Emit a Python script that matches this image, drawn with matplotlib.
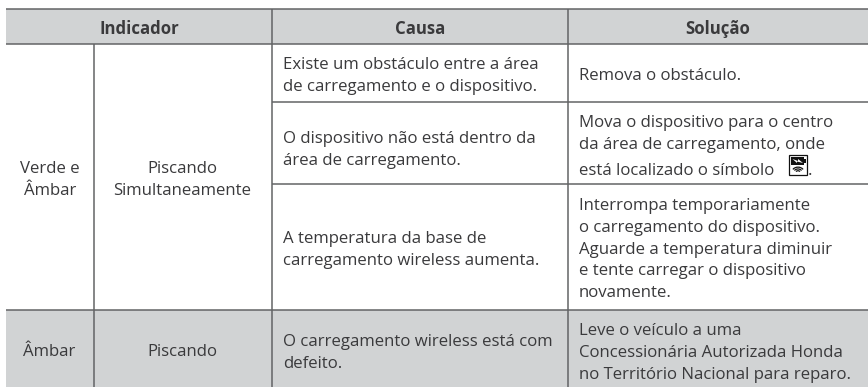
import matplotlib
matplotlib.use("Agg")
import matplotlib.pyplot as plt
from matplotlib.patches import Rectangle, Arc, Polygon

headers = ["Indicador", "Causa", "Solução"]
indicator_colors = ["Verde e\nÂmbar", "Âmbar"]
indicator_states = ["Piscando\nSimultaneamente", "Piscando"]
causes = [
    "Existe um obstáculo entre a área\nde carregamento e o dispositivo.",
    "O dispositivo não está dentro da\nárea de carregamento.",
    "A temperatura da base de\ncarregamento wireless aumenta.",
    "O carregamento wireless está com\ndefeito.",
]
solutions = [
    "Remova o obstáculo.",
    "Mova o dispositivo para o centro\nda área de carregamento, onde",
    "Interrompa temporariamente\no carregamento do dispositivo.\nAguarde a temperatura diminuir\ne tente carregar o dispositivo\nnovamente.",
    "Leve o veículo a uma\nConcessionária Autorizada Honda\nno Território Nacional para reparo.",
]
symbol_line = "está localizado o símbolo"
symbol_end = "."

W, H = 868, 387
GREY = "#d1d3d4"
LINE = "#636466"
TXT = "#3a3a3c"
FONT = "Open Sans"
FS = 12.05
LS = 1.48

col_x = [6, 94, 272, 568, 868]
row_y = [9, 43.5, 102, 184, 309.5, 387]

fig = plt.figure(figsize=(W / 100, H / 100), dpi=100)
ax = fig.add_axes([0, 0, 1, 1])
ax.set_xlim(0, W)
ax.set_ylim(H, 0)
ax.axis("off")

ax.add_patch(Rectangle((col_x[0], row_y[0]), col_x[-1] - col_x[0], row_y[1] - row_y[0], fc=GREY, ec="none"))
ax.add_patch(Rectangle((col_x[0], row_y[4]), col_x[-1] - col_x[0], row_y[5] - row_y[4], fc=GREY, ec="none"))

for y in [row_y[0], row_y[1], row_y[4]]:
    ax.plot([col_x[0], col_x[-1]], [y, y], color=LINE, lw=1.1, solid_capstyle="butt")
for y in [row_y[2], row_y[3]]:
    ax.plot([col_x[2], col_x[-1]], [y, y], color=LINE, lw=1.1, solid_capstyle="butt")
ax.plot([col_x[1]] * 2, [row_y[1], row_y[5]], color=LINE, lw=1.1, solid_capstyle="butt")
for x in col_x[2:4]:
    ax.plot([x, x], [row_y[0], row_y[5]], color=LINE, lw=1.1, solid_capstyle="butt")

def put(x, y, s, ha="left", **kw):
    ax.text(x, y, s, ha=ha, va="center", family=FONT, fontsize=FS, color=TXT,
            linespacing=LS, multialignment=ha, **kw)

hx = [(col_x[0] + col_x[2]) / 2, (col_x[2] + col_x[3]) / 2, (col_x[3] + col_x[4]) / 2]
for x, s in zip(hx, headers):
    put(x, 28.5, s, ha="center", fontweight="bold")

put(50, 180, indicator_colors[0], ha="center")
put(182.5, 180, indicator_states[0], ha="center")
put(49.5, 352, indicator_colors[1], ha="center")
put(182.5, 352, indicator_states[1], ha="center")

cy = [76, 150, 250, 353]
for y, s in zip(cy, causes):
    put(283, y, s)
sy = [76, 134, 249.5, 353]
for y, s in zip(sy, solutions):
    put(579, y, s)
put(579, 171, symbol_line)
put(808, 171, symbol_end)

ix, iy, iw, ih = 789, 155, 18, 20
ax.add_patch(Rectangle((ix, iy), iw, ih, fc="white", ec="#111111", lw=0.9, zorder=3))
ax.add_patch(Rectangle((ix + 2, iy + 2), iw - 5, 8, fc="#111111", ec="none", zorder=4))
ax.add_patch(Rectangle((ix + iw - 3, iy + 4), 1.5, 4, fc="#111111", ec="none", zorder=4))
ax.add_patch(Polygon([(ix + 3.5, iy + 4), (ix + 9, iy + 6), (ix + 9, iy + 4), (ix + 14, iy + 8),
                      (ix + 8, iy + 6.5), (ix + 8, iy + 8)], fc="white", ec="none", zorder=5))
for d in [13, 9, 5]:
    ax.add_patch(Arc((ix + iw / 2, iy + 18), d, d * 0.9, theta1=215, theta2=325, color="#111111", lw=0.9, zorder=4))

fig.savefig("out.png", dpi=100, facecolor="white")
